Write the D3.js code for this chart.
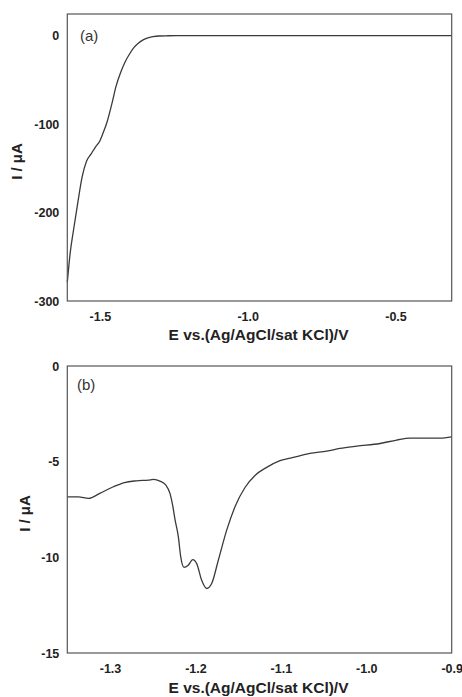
<!DOCTYPE html>
<html>
<head>
<meta charset="utf-8">
<script src="https://cdn.jsdelivr.net/npm/d3@7"></script>
<style>
  body { margin: 0; background: #fff; }
  svg { display: block; font-family: "Liberation Sans", Arial, sans-serif; }
</style>
</head>
<body>
<svg width="462" height="697"></svg>
<script>
// panel (a) - full scan
var potA = [-1.61, -1.60, -1.59, -1.575, -1.56, -1.545, -1.53, -1.515, -1.50, -1.49, -1.475, -1.46, -1.445,
  -1.43, -1.415, -1.40, -1.385, -1.37, -1.355, -1.34, -1.32, -1.30, -1.27, -1.24, -1.10, -0.90, -0.70, -0.50, -0.31];
var curA = [-279, -245, -222, -190, -160, -142, -134, -126, -119, -111, -97, -78, -57,
  -42, -30, -21, -13.5, -8.5, -5, -2.8, -1.2, -0.4, -0.1, 0, 0, 0, 0, 0, 0];
var xTicksA = [-1.5, -1.0, -0.5];
var yTicksA = [0, -100, -200, -300];

// panel (b) - zoomed region
var potB = [-1.35, -1.337, -1.325, -1.312, -1.296, -1.283, -1.269, -1.255, -1.249, -1.2415, -1.2345, -1.2298,
  -1.2266, -1.224, -1.22, -1.2172, -1.2134, -1.2084, -1.2032, -1.1985, -1.1927, -1.1868, -1.181, -1.1732,
  -1.1634, -1.1537, -1.142, -1.1303, -1.1166, -1.101, -1.0854, -1.0659, -1.0463, -1.0308, -1.0112, -0.9839,
  -0.9644, -0.9488, -0.9293, -0.9137, -0.9];
var curB = [-6.84, -6.84, -6.92, -6.66, -6.31, -6.09, -6.0, -5.96, -5.93, -6.02, -6.23, -6.66,
  -7.3, -8.0, -8.93, -9.98, -10.53, -10.41, -10.12, -10.33, -11.2, -11.63, -11.37, -10.15,
  -8.58, -7.36, -6.35, -5.72, -5.3, -4.95, -4.78, -4.57, -4.45, -4.31, -4.19, -4.05,
  -3.87, -3.77, -3.77, -3.77, -3.7];
var xTicksB = [-1.3, -1.2, -1.1, -1.0, -0.9];
var yTicksB = [0, -5, -10, -15];

var xTitle = "E vs.(Ag/AgCl/sat KCl)/V";
var yTitle = "I / \u03bcA";

var svg = d3.select("svg");

drawPanel({
  left: 67.3, right: 451.7, top: 14, bottom: 301,
  xDomain: [-1.61, -0.31], yDomain: [-300, 24.5],
  pot: potA, cur: curA, xTicks: xTicksA, yTicks: yTicksA,
  fmtX: function(d) { return d.toFixed(1); }, fmtY: function(d) { return d; },
  tag: "(a)", tagX: 80, tagY: 41, yTitleX: 22, xTitleY: 340
});

drawPanel({
  left: 67.3, right: 451.7, top: 366, bottom: 653,
  xDomain: [-1.35, -0.9], yDomain: [-15, 0],
  pot: potB, cur: curB, xTicks: xTicksB, yTicks: yTicksB,
  fmtX: function(d) { return d.toFixed(1); }, fmtY: function(d) { return d; },
  tag: "(b)", tagX: 77, tagY: 390, yTitleX: 30, xTitleY: 693
});

function drawPanel(p) {
  var x = d3.scaleLinear().domain(p.xDomain).range([p.left, p.right]);
  var y = d3.scaleLinear().domain(p.yDomain).range([p.bottom, p.top]);

  var data = p.pot.map(function(e, i) { return { e: e, i: p.cur[i] }; });

  var line = d3.line()
    .x(function(d) { return x(d.e); })
    .y(function(d) { return y(d.i); })
    .curve(d3.curveMonotoneX);

  svg.append("path")
    .datum(data)
    .attr("fill", "none")
    .attr("stroke", "#3a3a3a")
    .attr("stroke-width", 1.3)
    .attr("d", line);

  // frame
  svg.append("rect")
    .attr("x", p.left).attr("y", p.top)
    .attr("width", p.right - p.left).attr("height", p.bottom - p.top)
    .attr("fill", "none").attr("stroke", "#555").attr("stroke-width", 1.2);

  var gx = svg.append("g")
    .attr("transform", "translate(0," + p.bottom + ")")
    .call(d3.axisBottom(x).tickValues(p.xTicks).tickSize(0).tickPadding(11).tickFormat(p.fmtX));
  gx.select(".domain").remove();

  var gy = svg.append("g")
    .attr("transform", "translate(" + p.left + ",0)")
    .call(d3.axisLeft(y).tickValues(p.yTicks).tickSize(0).tickPadding(8).tickFormat(p.fmtY));
  gy.select(".domain").remove();

  svg.selectAll(".tick text")
    .attr("font-family", "Liberation Sans, Arial, sans-serif")
    .attr("font-size", 12.5)
    .attr("font-weight", "bold")
    .attr("fill", "#222");

  svg.append("text")
    .attr("x", p.tagX).attr("y", p.tagY)
    .attr("font-size", 15)
    .attr("fill", "#333")
    .text(p.tag);

  svg.append("text")
    .attr("x", (p.left + p.right) / 2 - 1).attr("y", p.xTitleY)
    .attr("text-anchor", "middle")
    .attr("font-size", 15.5)
    .attr("font-weight", "bold")
    .attr("fill", "#222")
    .text(xTitle);

  svg.append("text")
    .attr("transform", "translate(" + p.yTitleX + "," + ((p.top + p.bottom) / 2 + 4) + ") rotate(-90)")
    .attr("text-anchor", "middle")
    .attr("font-size", 15)
    .attr("font-weight", "bold")
    .attr("fill", "#222")
    .text(yTitle);
}
</script>
</body>
</html>
